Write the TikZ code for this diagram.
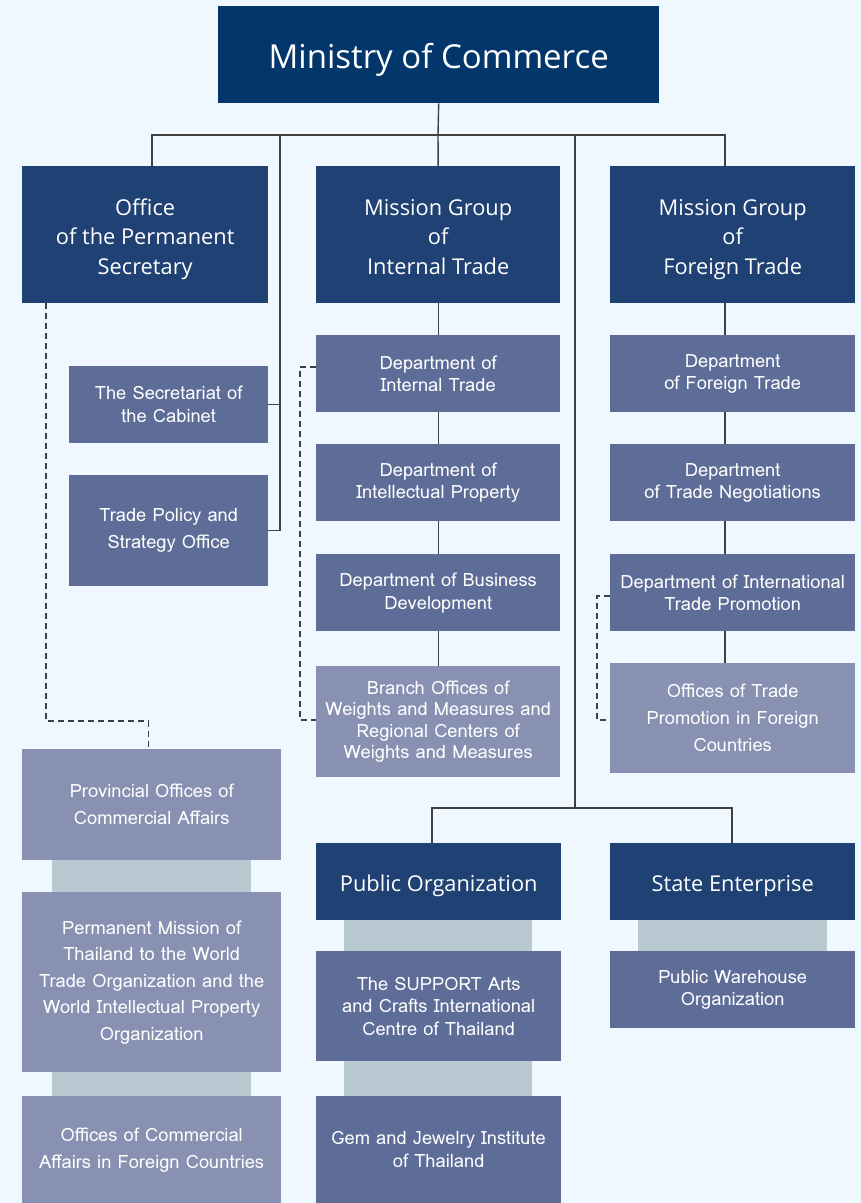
\documentclass[tikz,border=0pt]{standalone}
\usepackage{fontspec}
\setmainfont{Open Sans}
\newfontfamily\lomafont{Loma}
\newfontfamily\headfont{Open Sans}
\definecolor{bgc}{HTML}{F0F8FF}
\definecolor{minc}{HTML}{03366B}
\definecolor{hdc}{HTML}{1F4173}
\definecolor{midc}{HTML}{5E6D98}
\definecolor{ltc}{HTML}{8891B2}
\definecolor{barc}{HTML}{B8C9D1}
\definecolor{linec}{HTML}{404040}
\newcommand{\sm}[1]{\lomafont\fontsize{18.3}{#1}\selectfont}
\newcommand{\hdtop}{\rule{0pt}{28pt}}
\newcommand{\hdbot}{\rule[-8pt]{0pt}{8pt}}
\tikzset{
  box/.style={rectangle, anchor=north west, inner sep=0pt, align=center, text=white},
  hdbox/.style={box, fill=hdc, font=\headfont\fontsize{21.8}{29.5}\selectfont},
  midbox/.style={box, fill=midc, font=\sm{22}},
  ltbox/.style={box, fill=ltc, font=\sm{22}},
  barbox/.style={rectangle, anchor=north west, inner sep=0pt, fill=barc},
  conn/.style={draw=linec, line width=1.4pt},
  dsh/.style={draw=linec, line width=1.4pt, dash pattern=on 6pt off 4pt}
}
\begin{document}
\begin{tikzpicture}[x=1pt,y=-1pt]
\fill[bgc] (0,0) rectangle (861,1203);
\useasboundingbox (0,0) rectangle (861,1203);
% top
\node[box, fill=minc, minimum width=441pt, minimum height=97pt, font=\headfont\fontsize{33}{38}\selectfont] (min) at (218,6) {\rule{0pt}{36pt}Ministry of Commerce\rule[-9pt]{0pt}{9pt}};
% level 1
\node[hdbox, minimum width=246pt, minimum height=137pt] (ops) at (22,166) {\hdtop Office\\of the Permanent\\Secretary\hdbot};
\node[hdbox, minimum width=244pt, minimum height=137pt] (mgi) at (316,166) {\hdtop Mission Group\\of\\Internal Trade\hdbot};
\node[hdbox, minimum width=245pt, minimum height=137pt] (mgf) at (610,166) {\hdtop Mission Group\\of\\Foreign Trade\hdbot};
% left column
\node[midbox, minimum width=199pt, minimum height=77pt, font=\sm{23}] (sec) at (69,366) {The Secretariat of\\the Cabinet};
\node[midbox, minimum width=199pt, minimum height=111pt, font=\sm{27}] (tps) at (69,475) {Trade Policy and\\Strategy Office};
\node[ltbox, minimum width=259pt, minimum height=111pt, font=\sm{27}] (prov) at (22,749) {Provincial Offices of\\Commercial Affairs};
\node[barbox, minimum width=199pt, minimum height=32pt] (bar1) at (52,860) {};
\node[ltbox, minimum width=259pt, minimum height=180pt, font=\sm{26.5}] (pmt) at (22,892) {Permanent Mission of\\Thailand to the World\\Trade Organization and the\\World Intellectual Property\\Organization};
\node[barbox, minimum width=199pt, minimum height=24pt] (bar2) at (52,1072) {};
\node[ltbox, minimum width=259pt, minimum height=107pt, font=\sm{27}] (oca) at (22,1096) {Offices of Commercial\\Affairs in Foreign Countries};
% middle column
\node[midbox, minimum width=244pt, minimum height=77pt] (dit) at (316,335) {Department of\\Internal Trade};
\node[midbox, minimum width=244pt, minimum height=77pt] (dip) at (316,444) {Department of\\Intellectual Property};
\node[midbox, minimum width=244pt, minimum height=77pt, font=\sm{23}] (dbd) at (316,554) {Department of Business\\Development};
\node[ltbox, minimum width=244pt, minimum height=111pt, font=\sm{21.5}] (bow) at (316,666) {Branch Offices of\\Weights and Measures and\\Regional Centers of\\Weights and Measures};
\node[hdbox, minimum width=245pt, minimum height=77pt] (pub) at (316,843) {\hdtop Public Organization\hdbot};
\node[barbox, minimum width=188pt, minimum height=31pt] (bar3) at (344,920) {};
\node[midbox, minimum width=245pt, minimum height=110pt, font=\sm{22.5}] (sup) at (316,951) {The SUPPORT Arts\\and Crafts International\\Centre of Thailand};
\node[barbox, minimum width=188pt, minimum height=35pt] (bar4) at (344,1061) {};
\node[midbox, minimum width=245pt, minimum height=107pt, font=\sm{23}] (gem) at (316,1096) {Gem and Jewelry Institute\\of Thailand};
% right column
\node[midbox, minimum width=245pt, minimum height=77pt] (dft) at (610,335) {Department\\of Foreign Trade};
\node[midbox, minimum width=245pt, minimum height=77pt] (dtn) at (610,444) {Department\\of Trade Negotiations};
\node[midbox, minimum width=245pt, minimum height=77pt] (ditp) at (610,554) {Department of International\\Trade Promotion};
\node[ltbox, minimum width=245pt, minimum height=110pt, font=\sm{27}] (otp) at (610,663) {Offices of Trade\\Promotion in Foreign\\Countries};
\node[hdbox, minimum width=245pt, minimum height=77pt] (ste) at (610,843) {\hdtop State Enterprise\hdbot};
\node[barbox, minimum width=189pt, minimum height=31pt] (bar5) at (638,920) {};
\node[midbox, minimum width=245pt, minimum height=77pt] (pwo) at (610,951) {Public Warehouse\\Organization};
% connectors
\coordinate (j) at (438,135);
\coordinate (j152) at (152,135);
\coordinate (j280) at (280,135);
\coordinate (j575) at (575,135);
\coordinate (j725) at (725,135);
\coordinate (k575) at (575,808);
\coordinate (k432) at (432,808);
\coordinate (k732) at (732,808);
\draw[conn] (min.south) -- (j);
\draw[conn] (ops.north -| j152) -- (j152) -- (j725) -- (mgf.north -| j725);
\draw[conn] (mgi.north) -- (j);
\draw[conn] (j280) |- (tps.east);
\draw[conn] (sec.east) -- (sec.east -| j280);
\draw[conn] (j575) -- (k575);
\draw[conn] (pub.north -| k432) -- (k432) -- (k732) -- (ste.north -| k732);
\draw[conn] (mgi.south) -- (dit.north);
\draw[conn] (dit.south) -- (dip.north);
\draw[conn] (dip.south) -- (dbd.north);
\draw[conn] (dbd.south) -- (bow.north);
\draw[conn] (mgf.south -| j725) -- (dft.north -| j725);
\draw[conn] (dft.south -| j725) -- (dtn.north -| j725);
\draw[conn] (dtn.south -| j725) -- (ditp.north -| j725);
\draw[conn] (ditp.south -| j725) -- (otp.north -| j725);
% dashed
\coordinate (d1) at (46,721);
\draw[dsh] (ops.south west -| d1) -- (d1) -| ([xshift=-3pt]prov.north);
\coordinate (d2) at (300,367);
\coordinate (d3) at (300,720);
\draw[dsh] (dit.west |- d2) -- (d2) -- (d3) -- (d3 -| bow.west);
\coordinate (d4) at (597,596);
\coordinate (d5) at (597,720);
\draw[dsh] (ditp.west |- d4) -- (d4) -- (d5) -- (d5 -| otp.west);
\end{tikzpicture}
\end{document}
